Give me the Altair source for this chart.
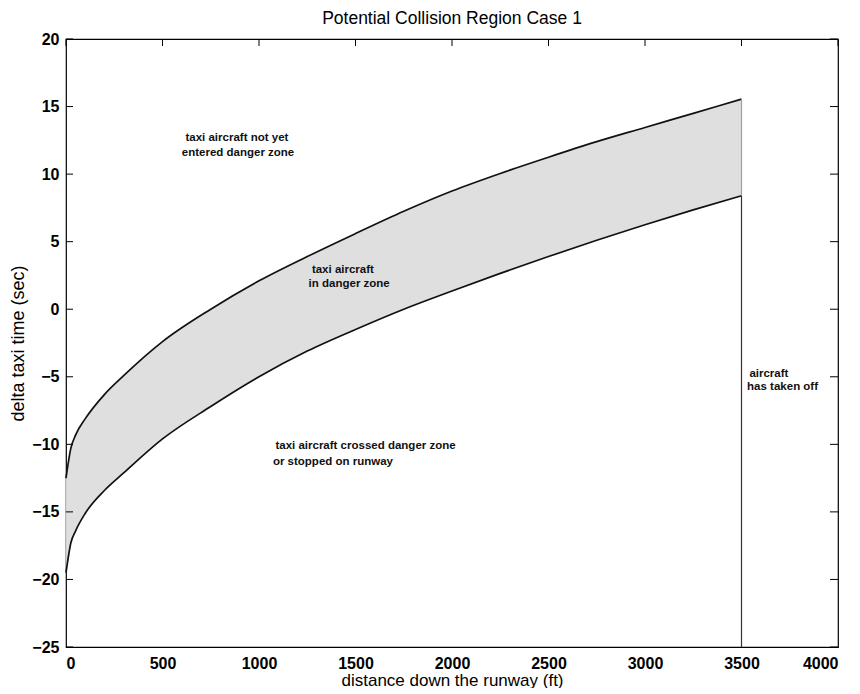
import altair as alt
import pandas as pd

# ---- data ----
dist = [0, 25, 50, 100, 200, 300, 500, 750, 1000, 1250, 1500, 1750, 2000, 2250, 2500, 2750, 3000, 3250, 3500]
upper = [-12.5, -10.3, -9.3, -8.1, -6.3, -4.9, -2.4, 0.0, 2.1, 3.9, 5.6, 7.25, 8.75, 10.05, 11.25, 12.4, 13.45, 14.5, 15.55]
lower = [-19.5, -17.3, -16.4, -15.1, -13.4, -12.1, -9.6, -7.2, -5.0, -3.1, -1.5, 0.0, 1.35, 2.65, 3.9, 5.1, 6.25, 7.35, 8.4]

takeoff_x = [3500]
takeoff_top = [8.4]
takeoff_bottom = [-25]
edge_top = [15.55]

x_ticks = [0, 500, 1000, 1500, 2000, 2500, 3000, 3500, 4000]
y_ticks = [-25, -20, -15, -10, -5, 0, 5, 10, 15, 20]

note_text = ["taxi aircraft not yet", "entered danger zone",
             "taxi aircraft", "in danger zone",
             "taxi aircraft crossed danger zone", "or stopped on runway",
             "aircraft", "has taken off"]
note_x = [619, 600, 1274, 1257, 1085, 1072, 3541, 3529]
note_y = [12.65, 11.54, 2.9, 1.87, -10.13, -11.29, -4.82, -5.78]

W, H = 772, 608
FONT = "Liberation Sans"

xs = alt.Scale(domain=[0, 4000], nice=False, zero=False)
ys = alt.Scale(domain=[-25, 20], nice=False, zero=False)
xaxis = alt.Axis(title="distance down the runway (ft)", values=x_ticks, format="d")
yaxis = alt.Axis(title="delta taxi time (sec)", values=y_ticks, format="d")

band = pd.DataFrame({"dist": dist, "upper": upper, "lower": lower})
lines = pd.concat([
    pd.DataFrame({"dist": dist, "val": upper, "s": "upper"}),
    pd.DataFrame({"dist": dist, "val": lower, "s": "lower"}),
])
takeoff = pd.DataFrame({"x": takeoff_x, "top": takeoff_top, "bottom": takeoff_bottom, "etop": edge_top})
notes = pd.DataFrame({"t": note_text, "x": note_x, "y": note_y})
xt = pd.DataFrame({"t": x_ticks})
yt = pd.DataFrame({"t": y_ticks})


def X(f):
    return alt.X(f, scale=xs, axis=xaxis)


def Y(f):
    return alt.Y(f, scale=ys, axis=yaxis)


area = alt.Chart(band).mark_area(color="#dddddd", opacity=0.95, interpolate="monotone").encode(
    x=X("dist:Q"), y=Y("upper:Q"), y2="lower:Q",
)

curve = alt.Chart(lines).mark_line(color="#111111", strokeWidth=1.7, interpolate="monotone").encode(
    x=X("dist:Q"), y=Y("val:Q"), detail="s:N",
)

edge = alt.Chart(takeoff).mark_rule(color="#a0a0a0", strokeWidth=1.2).encode(
    x=X("x:Q"), y=Y("etop:Q"), y2="top:Q",
)

vline = alt.Chart(takeoff).mark_rule(color="#333333", strokeWidth=1.2).encode(
    x=X("x:Q"), y=Y("top:Q"), y2="bottom:Q",
)

text = alt.Chart(notes).mark_text(align="left", baseline="middle", font=FONT,
                                   fontSize=11.5, fontWeight="bold", color="#111111").encode(
    x=X("x:Q"), y=Y("y:Q"), text="t:N",
)

tick_len = 7
tt = alt.Chart(xt).mark_rule(color="black", strokeWidth=1).encode(
    x=X("t:Q"), y=alt.value(0), y2=alt.value(tick_len))
tl = alt.Chart(yt).mark_rule(color="black", strokeWidth=1).encode(
    y=Y("t:Q"), x=alt.value(0), x2=alt.value(tick_len))
tr = alt.Chart(yt).mark_rule(color="black", strokeWidth=1).encode(
    y=Y("t:Q"), x=alt.value(W), x2=alt.value(W - 8))

chart = alt.layer(area, curve, edge, vline, text, tt, tl, tr).properties(
    width=W, height=H,
    title=alt.TitleParams("Potential Collision Region Case 1", font=FONT, fontSize=17.5,
                          fontWeight="normal", color="black", offset=4),
    autosize=alt.AutoSizeParams(type="none"),
    padding={"left": 58, "top": 31, "right": 14, "bottom": 41},
).configure_view(stroke="black", strokeWidth=1.2).configure_axis(
    domain=False, ticks=False, grid=False,
    labelFont=FONT, labelFontSize=16, labelFontWeight="bold", labelColor="black",
    titleFont=FONT, titleFontWeight="normal", titleColor="black",
).configure_axisX(labelPadding=8, titlePadding=1, titleFontSize=17).configure_axisY(
    labelPadding=7, titlePadding=4, titleFontSize=18)

chart.save("out.html", embed_options={"renderer": "svg", "actions": False})
